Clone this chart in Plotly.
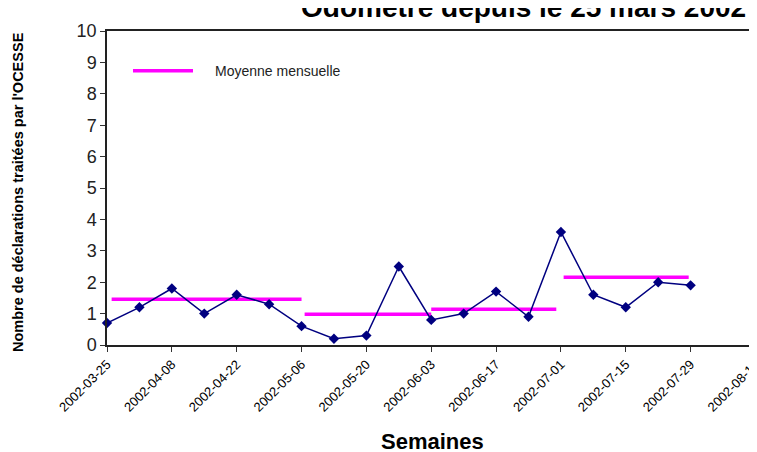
import plotly.graph_objects as go

# Weekly values
weeks = ["2002-03-25", "2002-04-01", "2002-04-08", "2002-04-15", "2002-04-22",
         "2002-04-29", "2002-05-06", "2002-05-13", "2002-05-20", "2002-05-27",
         "2002-06-03", "2002-06-10", "2002-06-17", "2002-06-24", "2002-07-01",
         "2002-07-08", "2002-07-15", "2002-07-22", "2002-07-29"]
values = [0.7, 1.2, 1.8, 1.0, 1.6, 1.3, 0.6, 0.2, 0.3, 2.5,
          0.8, 1.0, 1.7, 0.9, 3.6, 1.6, 1.2, 2.0, 1.9]

# Monthly means (segments)
mean_start = ["2002-03-26", "2002-05-06 16:00", "2002-06-03", "2002-07-01 14:00"]
mean_end = ["2002-05-06", "2002-06-03", "2002-06-30", "2002-07-28 14:00"]
mean_values = [1.455, 0.98, 1.14, 2.16]

tick_dates = ["2002-03-25", "2002-04-08", "2002-04-22", "2002-05-06", "2002-05-20",
              "2002-06-03", "2002-06-17", "2002-07-01", "2002-07-15", "2002-07-29",
              "2002-08-12"]

title_text = "Odomètre depuis le 25 mars 2002"
x_title = "Semaines"
y_title = "Nombre de déclarations traitées par l'OCESSE"
legend_text = "Moyenne mensuelle"

FONT = "Arial, Liberation Sans, sans-serif"

mx, my = [], []
for s, e, v in zip(mean_start, mean_end, mean_values):
    mx += [s, e, None]
    my += [v, v, None]

fig = go.Figure()
fig.add_trace(go.Scatter(x=mx, y=my, mode="lines",
                         line=dict(color="#FF00FF", width=3.5),
                         name=legend_text, showlegend=False, connectgaps=False,
                         cliponaxis=False))
fig.add_trace(go.Scatter(x=weeks, y=values, mode="lines+markers",
                         line=dict(color="#000080", width=1.5),
                         marker=dict(symbol="diamond", size=8, color="#000080"),
                         showlegend=False, cliponaxis=False))

fig.update_layout(
    width=757, height=452,
    margin=dict(l=99, r=8, t=23, b=115, autoexpand=False),
    paper_bgcolor="white", plot_bgcolor="white",
    font=dict(family=FONT, color="#000000"),
    xaxis=dict(type="date", range=["2002-03-25", "2002-08-12 08:00"],
               tickvals=tick_dates, tickformat="%Y-%m-%d", tickangle=-45,
               ticks="outside", ticklen=5, tickcolor="#333333",
               showline=True, linecolor="#222222", linewidth=1.5, mirror=True,
               showgrid=False, zeroline=False, automargin=False,
               tickfont=dict(size=13, family=FONT, color="#000000")),
    yaxis=dict(range=[0, 10], dtick=1, ticks="outside", ticklen=5,
               tickcolor="#333333", showline=True, linecolor="#222222",
               linewidth=1.5, showgrid=False, zeroline=False, automargin=False,
               tickfont=dict(size=18, family=FONT, color="#222222")),
    shapes=[dict(type="line", xref="paper", yref="paper",
                 x0=0.04, x1=0.1323, y0=0.8736, y1=0.8736,
                 line=dict(color="#FF00FF", width=3.5))],
    annotations=[
        dict(text="<b>" + title_text + "</b>", xref="paper", yref="paper",
             x=0.64, y=1.02, xanchor="center", yanchor="bottom",
             showarrow=False, font=dict(size=28, family=FONT, color="#000000")),
        dict(text="<b>" + x_title + "</b>", xref="paper", yref="paper",
             x=0.5, y=-0.306, xanchor="center", yanchor="middle",
             showarrow=False, font=dict(size=22, family=FONT, color="#000000")),
        dict(text="<b>" + y_title + "</b>", xref="paper", yref="paper",
             x=-0.137, y=0.487, xanchor="center", yanchor="middle",
             textangle=-90, showarrow=False,
             font=dict(size=14.5, family=FONT, color="#000000")),
        dict(text=legend_text, xref="paper", yref="paper",
             x=0.163, y=0.8736, xanchor="left", yanchor="middle",
             showarrow=False, font=dict(size=14, family=FONT, color="#222222")),
    ],
)

fig.write_html("out.html")
